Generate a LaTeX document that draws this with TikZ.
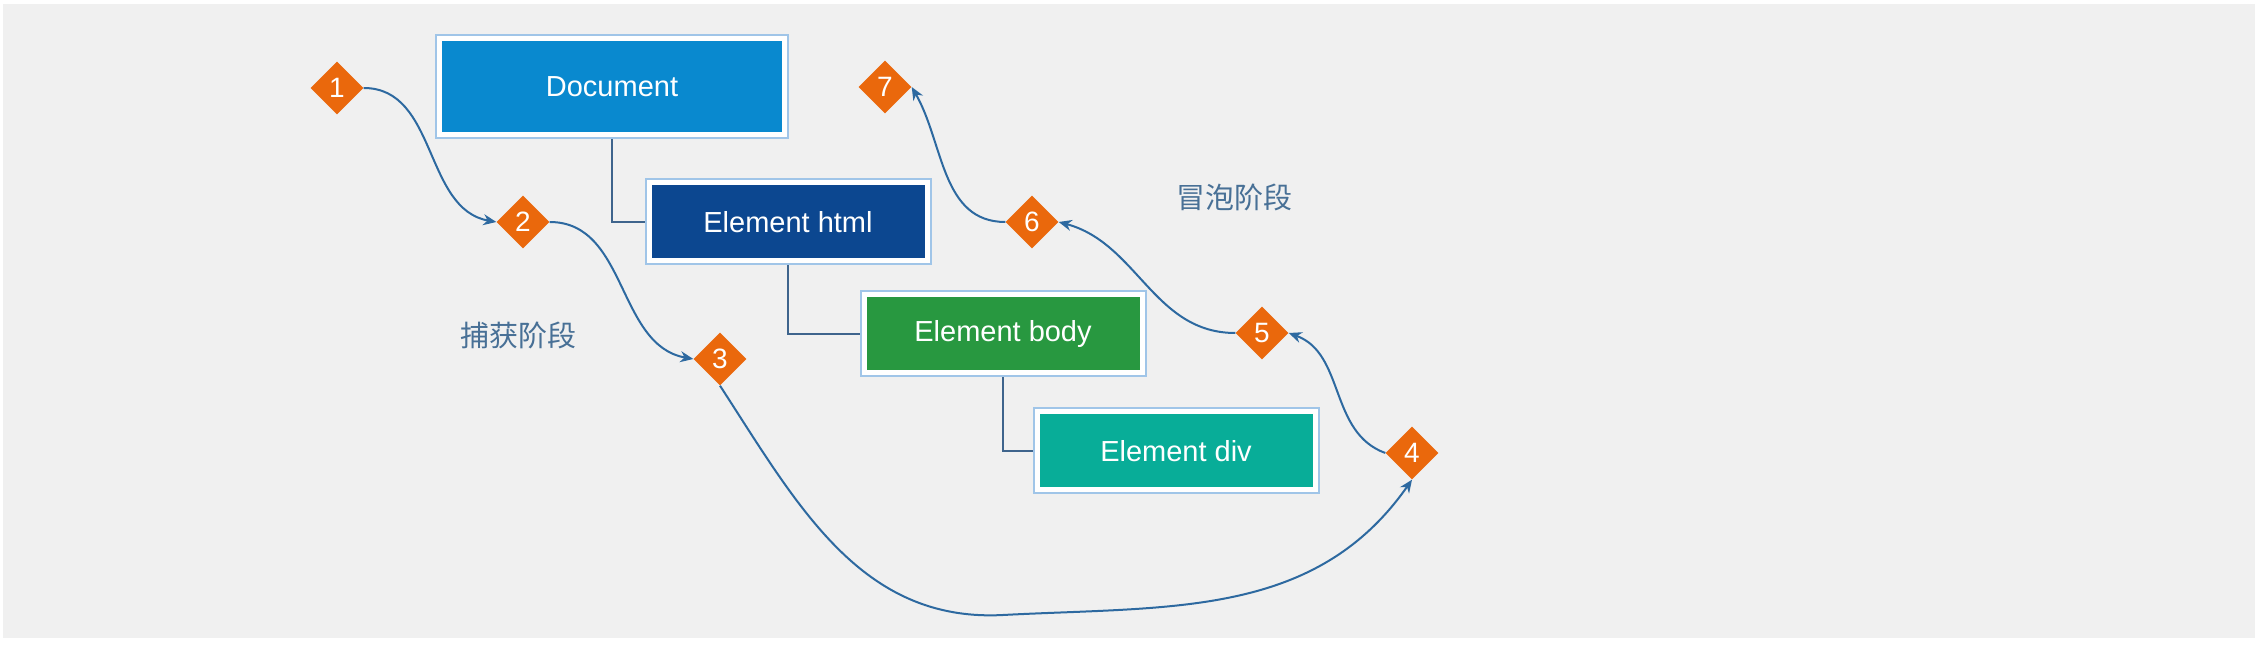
\documentclass[tikz,border=0pt]{standalone}
\usepackage{fontspec}
\setmainfont{Liberation Sans}
\newfontfamily\cjkfont{Noto Sans CJK SC}
\usetikzlibrary{shapes.geometric,arrows.meta}
\definecolor{panelgray}{RGB}{240,240,240}
\definecolor{frameblue}{RGB}{160,197,232}
\definecolor{docblue}{RGB}{9,137,207}
\definecolor{htmlblue}{RGB}{12,71,144}
\definecolor{bodygreen}{RGB}{40,152,64}
\definecolor{divteal}{RGB}{8,173,152}
\definecolor{steporange}{RGB}{234,104,12}
\definecolor{flowblue}{RGB}{45,105,160}
\definecolor{treeblue}{RGB}{62,100,140}
\definecolor{phaseblue}{RGB}{72,112,150}

\begin{document}
\begin{tikzpicture}[x=1pt,y=1pt,
  elem/.style={rectangle,draw=white,line width=6pt,outer sep=4pt,
    minimum width=279pt,minimum height=79pt,text=white,
    font=\fontsize{29}{35}\selectfont},
  framebox/.style={draw=frameblue,line width=2pt},
  tree/.style={draw=treeblue,line width=2pt},
  stepmark/.style={diamond,fill=steporange,text=white,inner sep=0pt,
    minimum width=53pt,minimum height=53pt,font=\fontsize{28}{32}\selectfont},
  flow/.style={draw=flowblue,line width=2pt,-{Stealth[length=13pt,width=11pt]}},
  phase/.style={text=phaseblue,font=\cjkfont\fontsize{29}{35}\selectfont}]
\useasboundingbox (0,0) rectangle (2260,648);
\fill[white] (0,0) rectangle (2260,648);
\fill[panelgray] (3,10) rectangle (2255,644);

% DOM tree
\node[elem,fill=docblue,minimum width=346pt,minimum height=97pt] (doc) at (612,561) {Document};
\node[elem,fill=htmlblue] (html) at (788,426) {Element html};
\node[elem,fill=bodygreen] (body) at (1003,314) {Element body};
\node[elem,fill=divteal] (div) at (1176,197) {Element div};
\foreach \n in {doc,html,body,div}
  \draw[framebox] ([shift={(1pt,1pt)}]\n.south west) rectangle ([shift={(-1pt,-1pt)}]\n.north east);
\draw[tree] (doc.south) |- (html.west);
\draw[tree] (html.south) |- (body.west);
\draw[tree] (body.south) |- (div.west);

% event path
\node[stepmark] (s1) at (337,560) {1};
\node[stepmark] (s2) at (523,426) {2};
\node[stepmark] (s3) at (720,289) {3};
\node[stepmark] (s4) at (1412,195) {4};
\node[stepmark] (s5) at (1262,315) {5};
\node[stepmark] (s6) at (1032,426) {6};
\node[stepmark] (s7) at (885,561) {7};
\coordinate (dip) at (1003,33);
\node[phase] (capture) at (518,313) {捕获阶段};
\node[phase] (bubble) at (1234,451) {冒泡阶段};

\draw[flow] (s1.east) to[out=0,in=170] (s2.west);
\draw[flow] (s2.east) to[out=0,in=170] (s3.west);
\draw[flow] (s3.south) to[out=-57,in=183] (dip) to[out=3,in=-125] (s4.south);
\draw[flow] (s4.west) to[out=160,in=-20] (s5.east);
\draw[flow] (s5.west) to[out=180,in=-15] (s6.east);
\draw[flow] (s6.west) to[out=180,in=-60] (s7.east);
\end{tikzpicture}
\end{document}
